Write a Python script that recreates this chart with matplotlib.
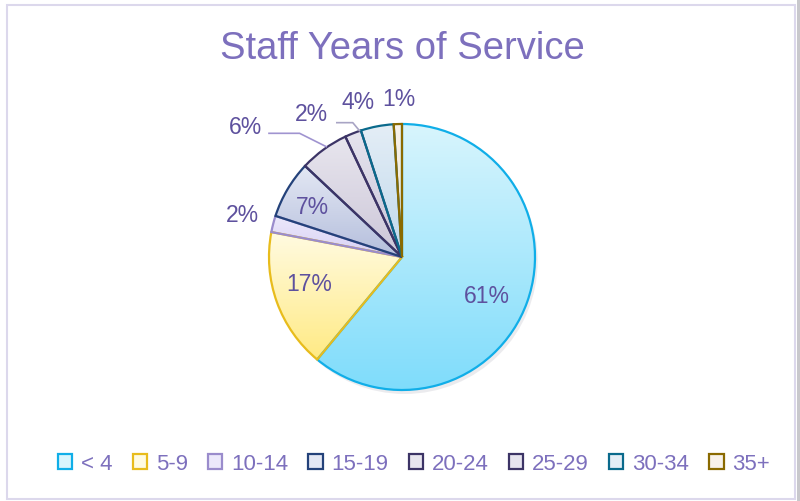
import matplotlib
matplotlib.use("Agg")
import matplotlib.pyplot as plt
import numpy as np
from matplotlib.colors import LinearSegmentedColormap
from matplotlib.patches import Rectangle

plt.rcParams['font.family'] = ['Liberation Sans', 'DejaVu Sans']

# ---- data ----
categories = ["< 4", "5-9", "10-14", "15-19", "20-24", "25-29", "30-34", "35+"]
values = [61, 17, 2, 7, 6, 2, 4, 1]
pct_labels = ["61%", "17%", "2%", "7%", "6%", "2%", "4%", "1%"]
title = "Staff Years of Service"

# ---- style ----
top_colors = ["#d8f5fd", "#fffbe2", "#ece9fb", "#e4e8f4", "#e8e6ee", "#e6e4ee", "#e4eef6", "#f8f2ea"]
bot_colors = ["#7edcfb", "#ffea84", "#d8d0f4", "#b4bedc", "#ccc6d8", "#c8c4d8", "#c0d8ec", "#efe2cc"]
edge_colors = ["#10aee8", "#e8bc1c", "#9a8ccc", "#24427a", "#3c3466", "#3c3466", "#0a6a8c", "#8a6a00"]
label_xy = [(0.64, -0.29), (-0.70, -0.20), (-1.20, 0.32), (-0.67, 0.38),
            (-1.18, 0.98), (-0.68, 1.08), (-0.33, 1.17), (-0.02, 1.19)]
title_color = "#7d70bd"
label_color = "#5e519e"

fig = plt.figure(figsize=(8.0, 5.02), dpi=100)
W, H = 800, 502

# border
fig.patches.append(Rectangle((7 / W, 2 / H), 788 / W, 494 / H, transform=fig.transFigure,
                             fill=False, edgecolor="#dcd8ec", linewidth=1.5))
fig.patches.append(Rectangle((797 / W, 0), 3 / W, 1, transform=fig.transFigure,
                             facecolor="#c8c8cc", edgecolor="none"))

# axes for pie: center (402, 258) px, radius 133 px
R = 133
half = 170
cx, cy = 402, H - 258
ax = fig.add_axes([(cx - half) / W, (cy - half) / H, 2 * half / W, 2 * half / H])
lim = half / R
ax.set_xlim(-lim, lim)
ax.set_ylim(-lim, lim)
ax.set_aspect("equal")
ax.axis("off")

wedges, _ = ax.pie(values, startangle=90, counterclock=False, radius=1.0,
                   wedgeprops=dict(linewidth=1.6), colors=["none"] * len(values))

# shadow
ax.add_patch(plt.Circle((0.02, -0.03), 1.0, color="#c8c8d0", alpha=0.35, zorder=0, lw=0))
ax.add_patch(plt.Circle((0.0, 0.0), 1.0, color="white", zorder=0.5, lw=0))

for w, tc, bc, ec in zip(wedges, top_colors, bot_colors, edge_colors):
    w.set_edgecolor(ec)
    w.set_zorder(3)
    verts = w.get_path().vertices
    y0, y1 = verts[:, 1].min(), verts[:, 1].max()
    x0, x1 = verts[:, 0].min(), verts[:, 0].max()
    cmap = LinearSegmentedColormap.from_list("g", [bc, tc])
    grad = np.linspace(0, 1, 256).reshape(-1, 1)
    im = ax.imshow(grad, cmap=cmap, extent=(x0, x1, y0, y1), origin="lower",
                   aspect="auto", zorder=2, interpolation="bilinear")
    im.set_clip_path(w)

ax.set_xlim(-lim, lim)
ax.set_ylim(-lim, lim)

for (x, y), t in zip(label_xy, pct_labels):
    ax.text(x, y, t, ha="center", va="center", fontsize=16.5, color=label_color, zorder=5)

# leader lines
ax.plot([-1.00, -0.77, -0.57], [0.93, 0.93, 0.83], color="#a094d0", lw=1.2, zorder=4)
ax.plot([-0.49, -0.37, -0.32], [1.01, 1.01, 0.95], color="#a8a4c4", lw=1.2, zorder=4)

fig.text(402 / W, 1 - 49 / H, title, ha="center", va="center", fontsize=27.5, color=title_color)

handles = [Rectangle((0, 0), 1, 1, facecolor=tc, edgecolor=ec, linewidth=1.6)
           for tc, ec in zip(top_colors, edge_colors)]
leg = fig.legend(handles, categories, loc="center", bbox_to_anchor=(414 / W, 1 - 465 / H),
                 ncol=8, frameon=False, fontsize=16, handlelength=0.65, handleheight=0.65,
                 handletextpad=0.4, columnspacing=0.9, borderpad=0)
for t in leg.get_texts():
    t.set_color(title_color)

fig.savefig("out.png", dpi=100)
